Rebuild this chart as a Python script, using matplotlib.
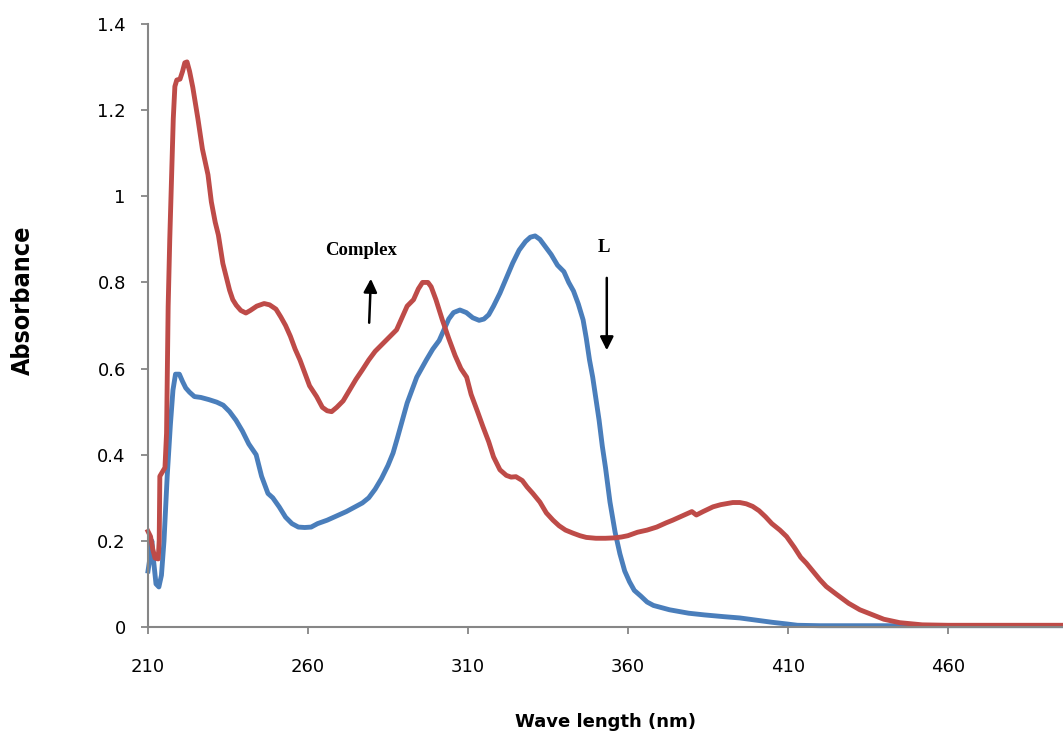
import numpy as np
import matplotlib
matplotlib.use("Agg")
import matplotlib.pyplot as plt
from matplotlib import font_manager

# ligand L (blue)
wl_L = [210.0, 210.6, 211.2, 211.8, 212.5, 213.4, 214.2, 215.0, 216.0, 217.0,
        217.8, 218.6, 219.8, 220.8, 221.8, 223.0, 224.5, 226.5, 229.0, 231.5,
        233.5, 235.5, 237.5, 239.5, 241.5, 243.8, 245.5, 247.5, 249.0, 251.0,
        253.0, 255.0, 257.0, 259.0, 261.0, 263.0, 266.0, 269.0, 272.0, 275.0,
        277.0, 279.0, 281.0, 283.0, 285.0, 286.6, 288.0, 289.5, 291.0, 292.5,
        294.0, 295.5, 297.0, 299.0, 301.0, 302.5, 304.0, 305.5, 307.5, 309.5,
        311.5, 313.5, 315.0, 316.5, 318.0, 320.0, 322.0, 324.0, 326.0, 328.0,
        329.5, 331.0, 332.5, 334.0, 336.0, 338.0, 340.0, 341.5, 343.0, 344.5,
        346.0, 347.0, 348.0, 349.0, 350.0, 351.0, 352.0, 353.0, 354.4, 356.0,
        357.5, 359.0, 360.5, 362.0, 364.0, 366.0, 368.0, 370.0, 373.0, 376.0,
        379.0, 384.0, 390.0, 395.0, 400.0, 405.0, 409.7, 413.0, 420.0, 496.0]
abs_L = [0.13, 0.16, 0.20, 0.15, 0.10, 0.093, 0.12, 0.20, 0.35, 0.47,
         0.55, 0.587, 0.587, 0.57, 0.555, 0.545, 0.535, 0.533, 0.528, 0.522,
         0.515, 0.50, 0.48, 0.455, 0.425, 0.40, 0.35, 0.31, 0.30, 0.279,
         0.255, 0.24, 0.232, 0.231, 0.232, 0.24, 0.248, 0.258, 0.268, 0.28,
         0.288, 0.30, 0.32, 0.345, 0.375, 0.404, 0.44, 0.48, 0.52, 0.55,
         0.58, 0.60, 0.62, 0.645, 0.665, 0.69, 0.715, 0.73, 0.736, 0.73,
         0.718, 0.712, 0.715, 0.725, 0.745, 0.775, 0.81, 0.845, 0.875, 0.895,
         0.905, 0.908, 0.90, 0.885, 0.865, 0.84, 0.825, 0.80, 0.78, 0.75,
         0.713, 0.67, 0.62, 0.58, 0.53, 0.48, 0.42, 0.37, 0.29, 0.22,
         0.17, 0.13, 0.105, 0.085, 0.072, 0.058, 0.05, 0.046, 0.04, 0.036,
         0.032, 0.028, 0.024, 0.021, 0.016, 0.011, 0.007, 0.004, 0.003, 0.003]

# complex (red)
wl_C = [210.0, 210.8, 211.5, 212.2, 213.2, 213.5, 213.7, 214.5, 215.3, 215.8,
        216.3, 216.8, 217.4, 217.9, 218.4, 219.0, 220.0, 220.8, 221.5, 222.2,
        223.0, 224.0, 225.6, 227.0, 228.75, 229.8, 231.0, 232.0, 233.4, 235.5,
        236.5, 237.6, 239.0, 240.6, 242.0, 244.0, 246.3, 248.0, 250.0, 251.5,
        253.0, 254.5, 256.0, 257.5, 259.0, 260.5, 262.7, 264.5, 266.0, 267.4,
        269.0, 271.0, 273.0, 275.0, 277.0, 279.0, 281.0, 283.0, 285.0, 287.7,
        289.5, 291.0, 293.0, 294.5, 295.8, 297.5, 298.5, 300.0, 302.0, 304.0,
        306.0, 307.8, 309.6, 311.0, 313.0, 314.7, 316.5, 318.0, 320.0, 322.0,
        323.5, 325.0, 327.0, 328.5, 330.3, 332.5, 334.5, 336.6, 338.5, 340.5,
        342.8, 345.0, 347.0, 350.0, 353.0, 356.0, 358.0, 360.0, 363.0, 366.0,
        369.0, 372.0, 374.0, 377.0, 380.0, 381.4, 383.5, 386.6, 389.0, 392.8,
        395.0, 397.0, 399.0, 401.0, 403.0, 405.0, 407.5, 409.6, 412.0, 414.0,
        415.8, 418.0, 420.0, 422.0, 425.0, 429.0, 432.5, 436.6, 440.0, 445.0,
        452.0, 460.0, 496.0]
abs_C = [0.222, 0.21, 0.18, 0.16, 0.158, 0.20, 0.35, 0.36, 0.37, 0.45,
         0.744, 0.90, 1.054, 1.18, 1.255, 1.27, 1.272, 1.29, 1.31, 1.312,
         1.29, 1.253, 1.18, 1.11, 1.05, 0.987, 0.94, 0.91, 0.844, 0.782,
         0.76, 0.747, 0.735, 0.729, 0.735, 0.745, 0.751, 0.748, 0.738, 0.72,
         0.70, 0.675, 0.645, 0.62, 0.59, 0.56, 0.535, 0.51, 0.502, 0.50,
         0.51, 0.525, 0.55, 0.575, 0.597, 0.62, 0.64, 0.655, 0.67, 0.69,
         0.72, 0.745, 0.76, 0.785, 0.80, 0.80, 0.79, 0.76, 0.713, 0.67,
         0.63, 0.60, 0.58, 0.54, 0.50, 0.465, 0.43, 0.395, 0.365, 0.352,
         0.348, 0.349, 0.34, 0.325, 0.31, 0.29, 0.265, 0.248, 0.235, 0.225,
         0.218, 0.212, 0.208, 0.206, 0.206, 0.207, 0.209, 0.212, 0.22, 0.225,
         0.232, 0.242, 0.248, 0.258, 0.268, 0.26, 0.268, 0.279, 0.284, 0.289,
         0.289, 0.286, 0.28, 0.27, 0.256, 0.24, 0.225, 0.21, 0.185, 0.162,
         0.148, 0.128, 0.11, 0.094, 0.077, 0.055, 0.04, 0.028, 0.018, 0.01,
         0.005, 0.004, 0.004]

x_ticks = [210, 260, 310, 360, 410, 460]
y_ticks = [0, 0.2, 0.4, 0.6, 0.8, 1.0, 1.2, 1.4]
y_labels = ["0", "0.2", "0.4", "0.6", "0.8", "1", "1.2", "1.4"]


def narrow_font():
    # pick a condensed bold face for the y label if one is installed
    for fam, stretch in [("Liberation Sans Narrow", "normal"),
                         ("DejaVu Sans", "condensed")]:
        fp = font_manager.FontProperties(family=fam, weight="bold", stretch=stretch)
        try:
            path = font_manager.findfont(fp, fallback_to_default=False)
        except Exception:
            continue
        if "Narrow" in path or "Condensed" in path:
            return font_manager.FontProperties(fname=path, size=18)
    return font_manager.FontProperties(family="Lato", weight="bold", size=17)


fig = plt.figure(figsize=(10.63, 7.35), dpi=100)
ax = fig.add_axes([148 / 1063, 1 - 627 / 735, 1 - 148 / 1063, (627 - 24) / 735])

ax.plot(wl_L, abs_L, color="#4A7EBB", lw=3.5, solid_joinstyle="round", clip_on=False)
ax.plot(wl_C, abs_C, color="#BE4B48", lw=3.5, solid_joinstyle="round", clip_on=False)

ax.set_xlim(210, 496)
ax.set_ylim(0, 1.4)
ax.set_xticks(x_ticks)
ax.set_xticklabels([str(t) for t in x_ticks], fontfamily="DejaVu Sans", fontsize=13)
ax.set_yticks(y_ticks)
ax.set_yticklabels(y_labels, fontfamily="DejaVu Sans", fontsize=13)

for s in ["top", "right"]:
    ax.spines[s].set_visible(False)
for s in ["left", "bottom"]:
    ax.spines[s].set_color("#868686")
    ax.spines[s].set_linewidth(1.5)
ax.tick_params(axis="x", direction="out", length=5, width=1.3, color="#868686", pad=17)
ax.tick_params(axis="y", direction="out", length=5, width=1.3, color="#868686", pad=11)

ax.set_xlabel("Wave length (nm)", fontfamily="DejaVu Sans", fontweight="bold", fontsize=13)
ax.xaxis.set_label_coords(0.5, -(713 - 627) / (627 - 24))
ax.set_ylabel("Absorbance", fontproperties=narrow_font())
ax.yaxis.set_label_coords(-(148 - 35) / (1063 - 148), (627 - 300) / (627 - 24))

# annotations
ax.text(276.6, 0.875, "Complex", family="Liberation Serif", fontweight="bold",
        fontsize=13.5, ha="center", va="center")
ax.annotate("", xy=(279.7, 0.815), xytext=(279.1, 0.70),
            arrowprops=dict(arrowstyle="-|>", color="black", lw=1.8, mutation_scale=20))
ax.text(352.5, 0.88, "L", family="Liberation Serif", fontweight="bold",
        fontsize=13.5, ha="center", va="center")
ax.annotate("", xy=(353.4, 0.636), xytext=(353.4, 0.817),
            arrowprops=dict(arrowstyle="-|>", color="black", lw=1.8, mutation_scale=20))

fig.savefig("out.png", dpi=100)
